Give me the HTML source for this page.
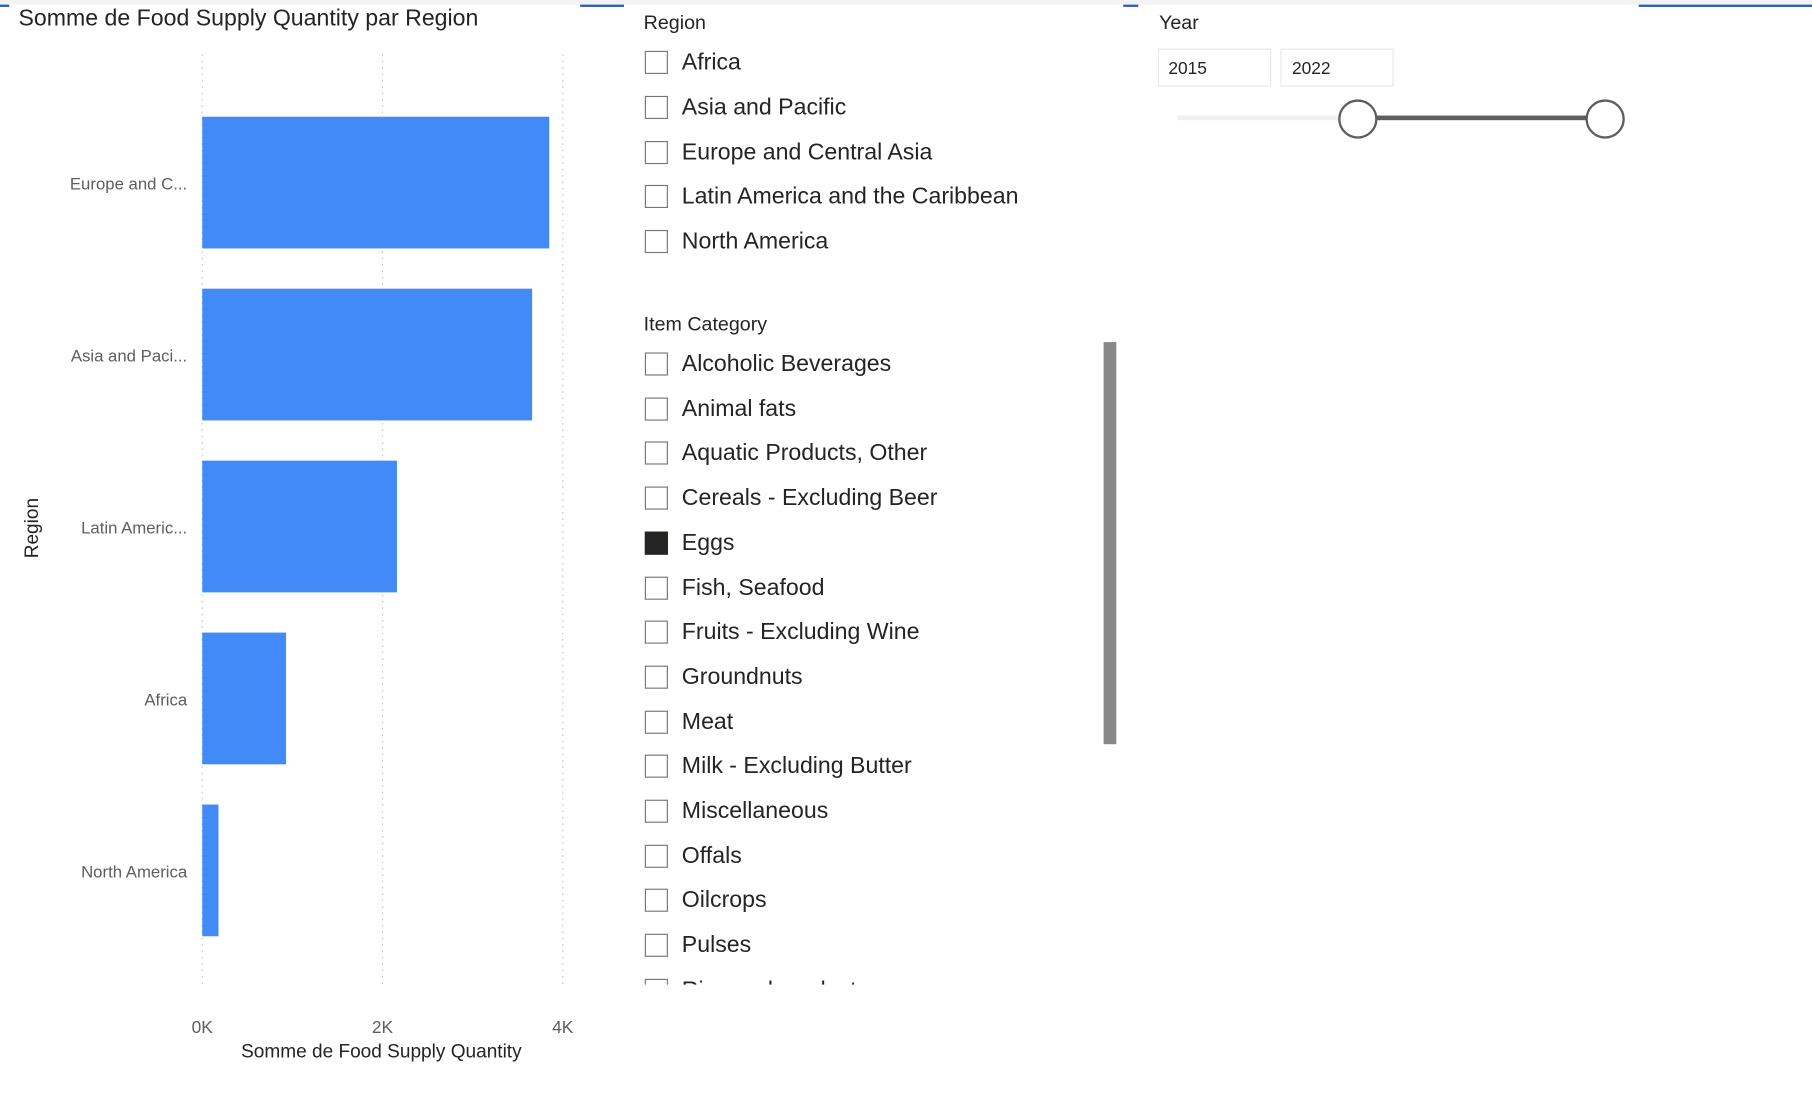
<!DOCTYPE html>
<html><head><meta charset="utf-8">
<style>
html,body{margin:0;padding:0;background:#fff;width:1812px;height:1102px;overflow:hidden}
#wrap{position:absolute;left:0;top:0;width:1568px;height:954px;transform:scale(1.15561);transform-origin:0 0;font-family:"Liberation Sans",sans-serif;color:#252423}
.abs{position:absolute}
.hdr{font-size:17px;color:#252423;font-weight:500}
.item{position:absolute;left:557px;height:24px;font-size:20px;white-space:nowrap;color:#252423}
.cb{position:absolute;left:1px;top:-10px;width:18px;height:18px;border:1px solid #777;background:#fff}
.item span{position:absolute;left:33px;top:-11px}
</style></head><body>
<div id="wrap">
<div class="abs" style="left:0;top:0;width:1568px;height:4px;background:#f3f3f3"></div>
<div class="abs" style="left:0;top:4px;width:8px;height:2px;background:#2b5cc4"></div>
<div class="abs" style="left:502px;top:4px;width:38px;height:2px;background:#2b5cc4"></div>
<div class="abs" style="left:972px;top:4px;width:13px;height:2px;background:#2b5cc4"></div>
<div class="abs" style="left:1418px;top:4px;width:150px;height:2px;background:#2b5cc4"></div>

<svg class="abs" style="left:0;top:0" width="540" height="954" id="chart">
<text x="16" y="22" font-size="20" fill="#252423">Somme de Food Supply Quantity par Region</text>
<g id="grid"></g><g id="bars"></g><g id="labels"></g><g id="ticks"></g>
<text x="330" y="915" font-size="16.5" text-anchor="middle" fill="#252423">Somme de Food Supply Quantity</text>
<text transform="translate(33,457) rotate(-90)" font-size="16.5" text-anchor="middle" fill="#252423">Region</text>
</svg>

<div class="abs hdr" style="left:557px;top:10px">Region</div>
<div id="regionList"></div>
<div class="abs hdr" style="left:557px;top:271px">Item Category</div>
<div class="abs" id="catList" style="left:0;top:0;width:960px;height:852px;overflow:hidden"></div>
<div class="abs" style="left:955px;top:296px;width:11px;height:348px;background:#888"></div>

<div class="abs hdr" style="left:1003px;top:10px">Year</div>
<div class="abs" style="left:1002px;top:42px;border:1px solid #e8e8e8;font-size:15px;line-height:33px;padding-left:8px;box-sizing:border-box;width:98px;height:33px">2015</div>
<div class="abs" style="left:1108px;top:42px;width:98px;height:33px;border:1px solid #e8e8e8;font-size:15px;line-height:33px;padding-left:9px;box-sizing:border-box">2022</div>
<div class="abs" style="left:1019px;top:100px;width:370px;height:4px;background:#f0f0f0"></div>
<div class="abs" style="left:1175px;top:100px;width:214px;height:4px;background:#605e5c"></div>
<div class="abs" style="left:1158px;top:86px;width:30px;height:30px;border:2px solid #605e5c;border-radius:50%;background:#fff"></div>
<div class="abs" style="left:1372px;top:86px;width:30px;height:30px;border:2px solid #605e5c;border-radius:50%;background:#fff"></div>
</div>
<script>
const categories=["Europe and C...","Asia and Paci...","Latin Americ...","Africa","North America"];
const values=[3850,3660,2160,930,180];
const tickValues=[0,2000,4000];
const tickLabels=["0K","2K","4K"];
const NS="http://www.w3.org/2000/svg";
function xs(v){return 175+v*78/1000;}
function yBand(i){return 101+i*148.8;}
const bandH=114;
function mk(tag,attrs,parent){const e=document.createElementNS(NS,tag);for(const k in attrs)e.setAttribute(k,attrs[k]);document.getElementById(parent).appendChild(e);return e;}
tickValues.forEach((t,i)=>{
  const l=mk('line',{x1:xs(t),x2:xs(t),y1:47,y2:852,stroke:'#c8c8c8','stroke-dasharray':'1.5,4'},'grid');
  
  
  const tx=mk('text',{x:xs(t),y:894,'font-size':15,'text-anchor':'middle',fill:'#605e5c'},'ticks');
  tx.textContent=tickLabels[i];
  
  
});
categories.forEach((c,i)=>{
  const r=mk('rect',{x:xs(0),y:yBand(i),width:xs(values[i])-xs(0),height:bandH,fill:'#418af8'},'bars');
  
  
  const t=mk('text',{x:162,y:yBand(i)+bandH/2+6,'font-size':14.5,'text-anchor':'end',fill:'#605e5c'},'labels');
  t.textContent=c;
  
  
});
function addItems(list,startY,step,container,checked){
  const cont=document.getElementById(container);
  list.forEach((n,i)=>{
    const d=document.createElement('div');d.className='item';d.style.top=(startY+i*step)+'px';
    
    
    const b=document.createElement('div');b.className='cb';
    if(n===checked){b.style.background='#252423';b.style.borderColor='#252423';}
    
    
    const s=document.createElement('span');s.textContent=n;
    d.appendChild(b);d.appendChild(s);cont.appendChild(d);
  });
}
addItems(["Africa","Asia and Pacific","Europe and Central Asia","Latin America and the Caribbean","North America"],54,38.8,'regionList',null);
addItems(["Alcoholic Beverages","Animal fats","Aquatic Products, Other","Cereals - Excluding Beer","Eggs","Fish, Seafood","Fruits - Excluding Wine","Groundnuts","Meat","Milk - Excluding Butter","Miscellaneous","Offals","Oilcrops","Pulses","Rice and products"],315,38.7,'catList','Eggs');
</script>
</body></html>
